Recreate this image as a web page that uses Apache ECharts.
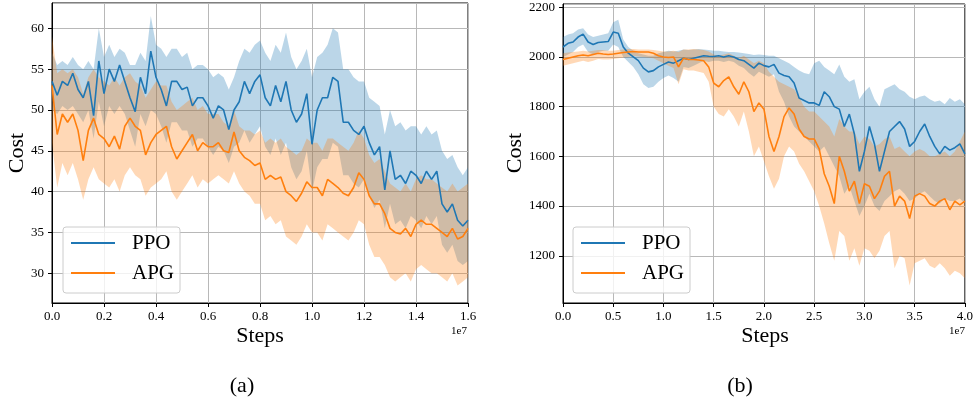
<!DOCTYPE html>
<html>
<head>
<meta charset="utf-8">
<script src="https://cdn.jsdelivr.net/npm/echarts@6/dist/echarts.min.js"></script>
<style>html,body{margin:0;background:#fff}#chart{width:976px;height:402px}</style>
</head>
<body>
<div id="chart"></div>
<script>
// (a) steps in units of 1e7, sampled every 0.02
var ppoMeanA = [53.5,51.8,53.5,53.0,54.5,52.5,51.5,53.5,49.3,56.0,52.0,55.0,53.5,55.5,53.5,51.5,49.8,54.0,52.0,57.2,54.0,52.5,50.5,53.5,53.5,52.5,52.8,50.5,51.5,51.5,50.5,49.0,50.5,50.0,47.6,50.0,51.0,53.5,52.0,53.5,54.3,51.5,50.5,53.0,51.0,53.5,50.0,48.5,49.5,52.0,45.8,50.0,51.5,51.5,54.0,53.5,48.5,48.5,47.5,47.0,48.0,46.0,44.5,45.5,40.2,45.0,41.5,42.0,41.0,42.5,42.0,41.0,42.5,41.5,42.5,38.5,37.5,38.5,36.5,35.8,36.5];
var ppoUpA = [57,55.5,56,55.5,56.5,55.5,55,56,55,60,56.5,58,56.5,57.5,57,55.5,55.5,57,56,61.5,58,57.5,56.5,57.5,57.5,56.5,57,55,55.5,55.5,55,54,54.5,54,52.5,54,56,57.5,57,58,58.5,57,56,58,57,59.5,56.5,55,56,57.5,54,56.5,57,58,60,59.5,55,55,54,53.5,53.5,51.5,51,50.5,47,50,48,48.5,47.5,48,48,47,48,47,47.5,45,44,44.5,43,42,43];
var ppoLowA = [50,49.5,50.5,50,50.5,49.5,48.5,50,46.5,51,48,50.5,49.5,50.5,49.5,47.5,45.5,49.5,48,50,49.5,48,46,48.5,48.5,47.5,47.5,45.5,46.5,46.5,45.5,44.5,45.5,45,43.5,45.5,46,47.5,46,47,48,45.5,44.5,46.5,44.5,46,43,41.5,42.5,45,40,43,44,44,46,45.5,42,42,41,40.5,41.5,39.5,38,39,35.5,38.5,36,36.5,35.5,37,36.5,35.5,37,36,37,33.5,32.5,33.5,31.5,31,31.5];
var apgMeanA = [53.0,47.0,49.5,48.5,49.5,47.5,43.8,47.5,49.0,47.0,46.5,45.5,46.8,45.2,48.0,49.0,48.0,47.5,44.5,46.0,47.0,47.5,48.0,45.5,44.0,45.0,46.0,47.0,45.0,46.0,45.5,45.5,46.0,45.0,44.8,47.3,45.0,44.2,43.8,43.2,43.5,41.5,42.0,41.5,41.8,40.0,39.5,38.8,39.8,41.2,40.5,40.5,39.5,41.5,41.0,40.5,39.8,39.5,40.5,42.3,41.5,39.5,38.5,38.5,37.3,35.5,35.0,34.8,35.5,34.5,36.0,36.5,36.0,36.0,35.5,35.0,34.5,35.5,34.2,34.5,35.5];
var apgUpA = [59,54.5,55,54.5,55,54,52,54,55,54,53.5,53,54,53,54,54.5,53.5,53,51.5,52.5,53.5,53,53,51,50,50.5,51,51.5,50,50.5,49.5,49.5,49.5,48.5,48,50,48,47.5,47.5,47,47.5,46,46.5,46,46.5,45.5,45,44.5,45,46.5,46,46,45,46.5,46.5,46,45.5,45,46,47.5,46.5,44.5,43.5,44,42.5,41,40.5,40,41,40,41.5,42,41.5,41.5,41,40.5,40,41,40,40.5,41];
var apgLowA = [46,40.5,43.5,42,43.5,41.5,39,41.5,43,41.5,41,40.5,41.5,40,42,43,42,41.5,39.5,40.5,41,41.5,42.5,40,39,40,41,42,40.5,41.5,41,41.5,42,41.5,41,42.5,41,40,39.5,38.5,38.5,36.5,37,36,36.5,34.5,34,33.5,34.5,36,35,35,34,36,35.5,35,34.5,34,35,36.5,36,33.5,32,32,31,29.5,29,29.5,30,29,30.5,31,30.5,30,30,29.5,29,30,28.5,29,29.5];

// (b) steps in units of 1e7, sampled every 0.05
var ppoMeanB = [2040,2055,2060,2080,2092,2060,2050,2058,2060,2062,2100,2095,2040,2015,2000,1985,1955,1940,1945,1960,1970,1980,1975,1985,1995,1990,1995,2000,2005,2003,2002,2005,2000,2005,2000,1990,1985,1970,1955,1975,1965,1960,1970,1935,1925,1920,1895,1835,1825,1815,1815,1805,1860,1840,1800,1790,1720,1770,1690,1540,1620,1720,1650,1540,1620,1700,1720,1740,1710,1640,1660,1700,1730,1680,1640,1610,1640,1625,1635,1650,1610];
var ppoUpB = [2080,2090,2095,2110,2115,2090,2080,2085,2090,2095,2140,2150,2070,2040,2025,2015,2010,2005,2005,2015,2020,2025,2022,2025,2030,2028,2030,2032,2030,2028,2025,2025,2022,2020,2020,2018,2015,2012,2008,2010,2008,2005,2005,1995,1985,1975,1960,1945,1935,1930,1975,1985,1960,1945,1930,1970,1920,1900,1910,1830,1860,1880,1830,1800,1870,1880,1890,1870,1860,1840,1830,1840,1845,1830,1820,1825,1810,1835,1820,1830,1810];
var ppoLowB = [2000,2010,2020,2040,2050,2020,2010,2020,2025,2025,2050,2040,2000,1980,1960,1930,1890,1875,1880,1900,1915,1925,1915,1900,1960,1955,1965,1975,1985,1980,1985,1985,1980,1985,1980,1965,1955,1935,1920,1940,1930,1920,1930,1860,1820,1760,1720,1700,1680,1660,1640,1620,1640,1600,1560,1520,1450,1480,1420,1360,1400,1450,1400,1380,1420,1440,1460,1470,1450,1420,1430,1450,1460,1440,1420,1410,1430,1420,1420,1430,1410];
var apgMeanB = [1990,1995,2000,2005,2008,2005,2010,2015,2012,2010,2012,2015,2018,2020,2022,2020,2020,2020,2015,2005,2000,1998,2000,1960,1995,1990,1990,1988,1985,1960,1895,1880,1905,1920,1880,1850,1900,1860,1780,1815,1790,1680,1620,1680,1760,1795,1770,1710,1680,1670,1670,1630,1530,1480,1410,1600,1540,1460,1500,1410,1490,1480,1430,1460,1520,1540,1400,1440,1420,1350,1440,1450,1440,1410,1400,1420,1430,1385,1420,1405,1420];
var apgUpB = [2015,2018,2020,2022,2025,2022,2025,2028,2028,2025,2025,2028,2030,2032,2032,2030,2030,2030,2028,2025,2022,2022,2025,2020,2030,2030,2032,2030,2028,2022,2010,2005,2010,2015,2005,1995,2005,1990,1975,1985,1975,1940,1920,1900,1890,1880,1870,1840,1800,1780,1780,1760,1740,1720,1680,1750,1720,1700,1700,1650,1680,1670,1640,1650,1670,1680,1630,1640,1620,1600,1620,1630,1620,1600,1600,1610,1620,1600,1620,1660,1700];
var apgLowB = [1965,1970,1975,1980,1985,1980,1985,1992,1990,1990,1992,1995,1998,2000,2005,2002,2000,1998,1995,1985,1975,1965,1955,1890,1950,1945,1945,1940,1935,1900,1800,1770,1760,1790,1760,1720,1780,1700,1600,1640,1580,1520,1470,1510,1600,1640,1620,1570,1540,1500,1460,1400,1330,1250,1180,1300,1280,1180,1230,1160,1230,1220,1190,1220,1280,1300,1150,1200,1190,1080,1170,1180,1190,1160,1150,1170,1150,1120,1140,1130,1110];

var stepsA = ppoMeanA.map(function (_, i) { return i * 0.02; });
var stepsB = ppoMeanB.map(function (_, i) { return i * 0.05; });

var BLUE = '#1f77b4', ORANGE = '#ff7f0e';
var FONT = 'Liberation Serif';

var myChart = echarts.init(document.getElementById('chart'), null, { renderer: 'canvas' });

function pairs(xs, ys) {
  return xs.map(function (x, i) { return [x, ys[i]]; });
}

// shaded band as one polygon: upper edge left->right, lower edge right->left
function band(key, xs, low, up, color, gi) {
  return {
    type: 'custom', name: key + ' band', xAxisIndex: gi, yAxisIndex: gi,
    silent: true, clip: true, z: 1,
    data: xs.map(function (x, i) { return [x, low[i], up[i]]; }),
    renderItem: function (params, api) {
      if (params.dataIndex !== 0) return null;
      var pts = [];
      for (var i = 0; i < xs.length; i++) pts.push(api.coord([xs[i], up[i]]));
      for (var j = xs.length - 1; j >= 0; j--) pts.push(api.coord([xs[j], low[j]]));
      return {
        type: 'polygon',
        shape: { points: pts },
        style: { fill: color, opacity: 0.3 }
      };
    }
  };
}

function meanLine(name, xs, ys, color, gi) {
  return {
    type: 'line', name: name, xAxisIndex: gi, yAxisIndex: gi,
    symbol: 'none', color: color, z: 3,
    lineStyle: { color: color, width: 1.6 },
    data: pairs(xs, ys)
  };
}

var tickLabel = { fontFamily: FONT, fontSize: 13, color: '#000' };
var gridLine = { show: true, lineStyle: { color: '#b8b8b8', width: 1 } };
var axisLine = { show: true, lineStyle: { color: '#000', width: 1 } };
var axisTick = { show: true, length: 4, lineStyle: { color: '#000' } };

function xAx(gi, max, step) {
  return {
    type: 'value', gridIndex: gi, min: 0, max: max, interval: step,
    axisLine: axisLine, axisTick: axisTick, splitLine: gridLine,
    axisLabel: Object.assign({ margin: 7, formatter: function (v) { return v.toFixed(1); } }, tickLabel)
  };
}

function yAx(gi, min, max, split) {
  return {
    type: 'value', gridIndex: gi, min: min, max: max, splitNumber: split,
    axisLine: axisLine, axisTick: axisTick, splitLine: gridLine,
    axisLabel: Object.assign({
      margin: 8, showMinLabel: false, showMaxLabel: false,
      formatter: function (v) { return String(v); }
    }, tickLabel)
  };
}

function legendBox(left) {
  return {
    left: left, top: 227, orient: 'vertical',
    data: ['PPO', 'APG'],
    icon: 'rect', itemWidth: 44, itemHeight: 2, itemGap: 0,
    padding: [1, 6, 5, 8],
    backgroundColor: 'rgba(255,255,255,0.8)',
    borderColor: '#cccccc', borderWidth: 1, borderRadius: 3,
    textStyle: { fontFamily: FONT, fontSize: 21, color: '#000', lineHeight: 30, padding: [0, 0, 0, 12] }
  };
}

function txt(x, y, s, size, rot) {
  return {
    type: 'text', x: x, y: y, rotation: rot || 0,
    style: { text: s, fontFamily: FONT, fontSize: size, fill: '#000', align: 'center', verticalAlign: 'middle' }
  };
}

var series = [
  band('PPO', stepsA, ppoLowA, ppoUpA, BLUE, 0),
  band('APG', stepsA, apgLowA, apgUpA, ORANGE, 0),
  band('PPO', stepsB, ppoLowB, ppoUpB, BLUE, 1),
  band('APG', stepsB, apgLowB, apgUpB, ORANGE, 1),
  meanLine('PPO', stepsA, ppoMeanA, BLUE, 0),
  meanLine('APG', stepsA, apgMeanA, ORANGE, 0),
  meanLine('PPO', stepsB, ppoMeanB, BLUE, 1),
  meanLine('APG', stepsB, apgMeanB, ORANGE, 1)
];

var option = {
  animation: false,
  backgroundColor: '#fff',
  grid: [
    { left: 52, top: 3, width: 416, height: 300, show: true, borderColor: '#000', borderWidth: 1 },
    { left: 563, top: 4, width: 403, height: 299, show: true, borderColor: '#000', borderWidth: 1 }
  ],
  xAxis: [xAx(0, 1.6, 0.2), xAx(1, 4.0, 0.5)],
  yAxis: [yAx(0, 26.36, 63.1, 7), yAx(1, 1010, 2213, 6)],
  legend: [legendBox(63), legendBox(573)],
  graphic: [
    txt(260, 336, 'Steps', 22),
    txt(765, 336, 'Steps', 22),
    txt(17, 153, 'Cost', 22, Math.PI / 2),
    txt(515, 153, 'Cost', 22, Math.PI / 2),
    txt(459, 331, '1e7', 11),
    txt(957, 331, '1e7', 11),
    txt(242, 386, '(a)', 22),
    txt(740, 386, '(b)', 22)
  ],
  series: series
};

myChart.setOption(option);
</script>
</body>
</html>
